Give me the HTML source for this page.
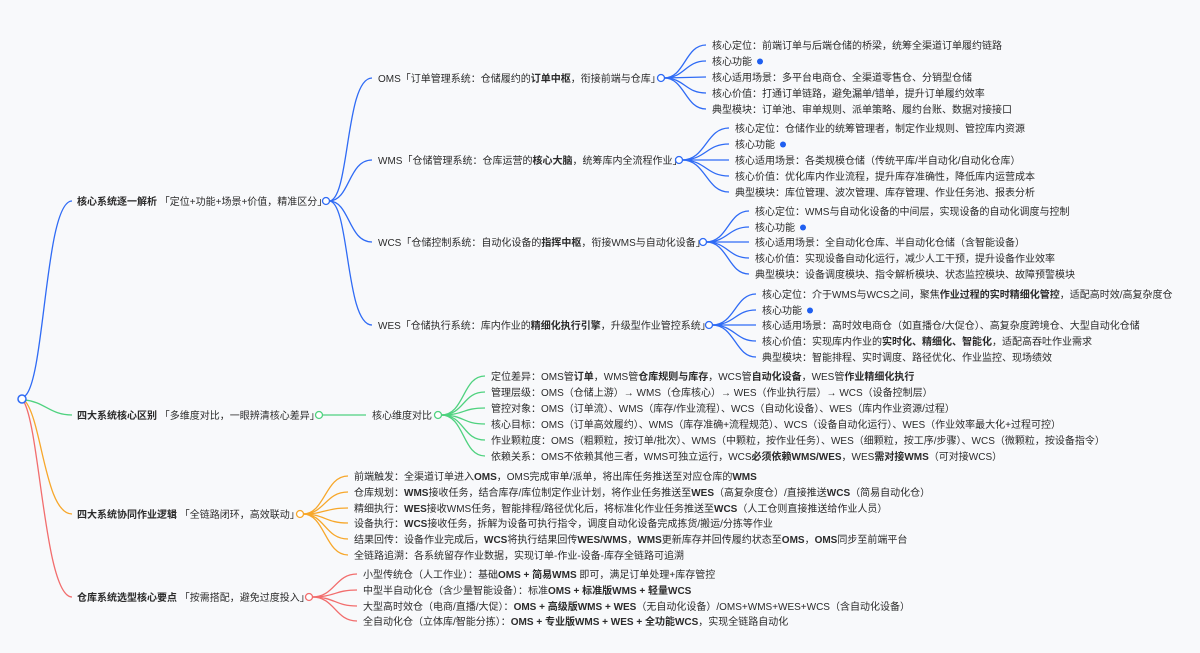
<!DOCTYPE html>
<html><head><meta charset="utf-8"><style>
html,body{margin:0;padding:0;background:#f8f9fb;}
svg{display:block;}
text{font-family:"Liberation Sans","Noto Sans CJK SC",sans-serif;font-size:10px;fill:#2b2b2b;}
.b{font-weight:bold;}
path{fill:none;stroke-width:1.3;}
.bl{stroke:#2f6bf5}.gr{stroke:#4fd27f}.or{stroke:#f7a72a}.rd{stroke:#f26d6d}
</style></head><body>
<svg width="1200" height="653" viewBox="0 0 1200 653" xmlns="http://www.w3.org/2000/svg">
<!-- root branches -->
<path class="bl" d="M25 396 C45 380,45 201,72 201"/>
<path class="gr" d="M25 400 C45 402,50 415,72 415"/>
<path class="or" d="M25 401 C42 420,45 514,72 514"/>
<path class="rd" d="M24 402 C40 430,45 597,72 597"/>
<circle cx="22" cy="399" r="4" fill="#fff" stroke="#2f6bf5" stroke-width="1.5"/>

<!-- level 1 texts -->
<text x="77" y="205"><tspan class="b">核心系统逐一解析</tspan> 「定位+功能+场景+价值，精准区分」</text>
<text x="77" y="419"><tspan class="b">四大系统核心区别</tspan> 「多维度对比，一眼辨清核心差异」</text>
<text x="77" y="518"><tspan class="b">四大系统协同作业逻辑</tspan> 「全链路闭环，高效联动」</text>
<text x="77" y="601"><tspan class="b">仓库系统选型核心要点</tspan> 「按需搭配，避免过度投入」</text>

<!-- blue level 2 -->
<path class="bl" d="M329 201 C350 201,345 78,372 78"/>
<path class="bl" d="M329 201 C350 201,348 160,372 160"/>
<path class="bl" d="M329 201 C350 201,348 242,372 242"/>
<path class="bl" d="M329 201 C350 201,345 325,372 325"/>
<circle cx="326" cy="201" r="3.5" fill="#fff" stroke="#2f6bf5" stroke-width="1.3"/>
<text x="378" y="82">OMS「订单管理系统：仓储履约的<tspan class="b">订单中枢</tspan>，衔接前端与仓库」</text>
<text x="378" y="164">WMS「仓储管理系统：仓库运营的<tspan class="b">核心大脑</tspan>，统筹库内全流程作业」</text>
<text x="378" y="246">WCS「仓储控制系统：自动化设备的<tspan class="b">指挥中枢</tspan>，衔接WMS与自动化设备」</text>
<text x="378" y="329">WES「仓储执行系统：库内作业的<tspan class="b">精细化执行引擎</tspan>，升级型作业管控系统」</text>

<!-- OMS children -->
<path class="bl" d="M664 78 C685 78,685 45,706 45"/>
<path class="bl" d="M664 78 C685 78,685 61,706 61"/>
<path class="bl" d="M664 78 L706 77"/>
<path class="bl" d="M664 78 C685 78,685 93,706 93"/>
<path class="bl" d="M664 78 C685 78,685 109,706 109"/>
<circle cx="661" cy="78" r="3.5" fill="#fff" stroke="#2f6bf5" stroke-width="1.3"/>
<text x="712" y="49">核心定位：前端订单与后端仓储的桥梁，统筹全渠道订单履约链路</text>
<text x="712" y="65">核心功能</text><circle cx="760" cy="61.5" r="3" fill="#1f5ff0"/>
<text x="712" y="81">核心适用场景：多平台电商仓、全渠道零售仓、分销型仓储</text>
<text x="712" y="97">核心价值：打通订单链路，避免漏单/错单，提升订单履约效率</text>
<text x="712" y="113">典型模块：订单池、审单规则、派单策略、履约台账、数据对接接口</text>

<!-- WMS children -->
<path class="bl" d="M682 160 C706 160,706 128,729 128"/>
<path class="bl" d="M682 160 C706 160,706 144,729 144"/>
<path class="bl" d="M682 160 L729 160"/>
<path class="bl" d="M682 160 C706 160,706 176,729 176"/>
<path class="bl" d="M682 160 C706 160,706 192,729 192"/>
<circle cx="679" cy="160" r="3.5" fill="#fff" stroke="#2f6bf5" stroke-width="1.3"/>
<text x="735" y="132">核心定位：仓储作业的统筹管理者，制定作业规则、管控库内资源</text>
<text x="735" y="148">核心功能</text><circle cx="783" cy="144.5" r="3" fill="#1f5ff0"/>
<text x="735" y="164">核心适用场景：各类规模仓储（传统平库/半自动化/自动化仓库）</text>
<text x="735" y="180">核心价值：优化库内作业流程，提升库存准确性，降低库内运营成本</text>
<text x="735" y="196">典型模块：库位管理、波次管理、库存管理、作业任务池、报表分析</text>

<!-- WCS children -->
<path class="bl" d="M706 242 C728 242,728 211,749 211"/>
<path class="bl" d="M706 242 C728 242,728 227,749 227"/>
<path class="bl" d="M706 242 L749 242"/>
<path class="bl" d="M706 242 C728 242,728 258,749 258"/>
<path class="bl" d="M706 242 C728 242,728 274,749 274"/>
<circle cx="703" cy="242" r="3.5" fill="#fff" stroke="#2f6bf5" stroke-width="1.3"/>
<text x="755" y="215">核心定位：WMS与自动化设备的中间层，实现设备的自动化调度与控制</text>
<text x="755" y="231">核心功能</text><circle cx="803" cy="227.5" r="3" fill="#1f5ff0"/>
<text x="755" y="246">核心适用场景：全自动化仓库、半自动化仓储（含智能设备）</text>
<text x="755" y="262">核心价值：实现设备自动化运行，减少人工干预，提升设备作业效率</text>
<text x="755" y="278">典型模块：设备调度模块、指令解析模块、状态监控模块、故障预警模块</text>

<!-- WES children -->
<path class="bl" d="M712 325 C735 325,735 294,756 294"/>
<path class="bl" d="M712 325 C735 325,735 310,756 310"/>
<path class="bl" d="M712 325 L756 325"/>
<path class="bl" d="M712 325 C735 325,735 341,756 341"/>
<path class="bl" d="M712 325 C735 325,735 357,756 357"/>
<circle cx="709" cy="325" r="3.5" fill="#fff" stroke="#2f6bf5" stroke-width="1.3"/>
<text x="762" y="298">核心定位：介于WMS与WCS之间，聚焦<tspan class="b">作业过程的实时精细化管控</tspan>，适配高时效/高复杂度仓</text>
<text x="762" y="314">核心功能</text><circle cx="810" cy="310.5" r="3" fill="#1f5ff0"/>
<text x="762" y="329">核心适用场景：高时效电商仓（如直播仓/大促仓）、高复杂度跨境仓、大型自动化仓储</text>
<text x="762" y="345">核心价值：实现库内作业的<tspan class="b">实时化、精细化、智能化</tspan>，适配高吞吐作业需求</text>
<text x="762" y="361">典型模块：智能排程、实时调度、路径优化、作业监控、现场绩效</text>

<!-- green -->
<path class="gr" d="M322 415 L366 415"/>
<circle cx="319" cy="415" r="3.5" fill="#fff" stroke="#4fd27f" stroke-width="1.3"/>
<text x="372" y="419">核心维度对比</text>
<path class="gr" d="M441 415 C465 415,462 376,485 376"/>
<path class="gr" d="M441 415 C465 415,462 392,485 392"/>
<path class="gr" d="M441 415 C465 415,462 408,485 408"/>
<path class="gr" d="M441 415 C465 415,462 424,485 424"/>
<path class="gr" d="M441 415 C465 415,462 440,485 440"/>
<path class="gr" d="M441 415 C465 415,462 456,485 456"/>
<circle cx="438" cy="415" r="3.5" fill="#fff" stroke="#4fd27f" stroke-width="1.3"/>
<text x="491" y="380">定位差异：OMS管<tspan class="b">订单</tspan>，WMS管<tspan class="b">仓库规则与库存</tspan>，WCS管<tspan class="b">自动化设备</tspan>，WES管<tspan class="b">作业精细化执行</tspan></text>
<text x="491" y="396">管理层级：OMS（仓储上游）→ WMS（仓库核心）→ WES（作业执行层）→ WCS（设备控制层）</text>
<text x="491" y="412">管控对象：OMS（订单流）、WMS（库存/作业流程）、WCS（自动化设备）、WES（库内作业资源/过程）</text>
<text x="491" y="428">核心目标：OMS（订单高效履约）、WMS（库存准确+流程规范）、WCS（设备自动化运行）、WES（作业效率最大化+过程可控）</text>
<text x="491" y="444">作业颗粒度：OMS（粗颗粒，按订单/批次）、WMS（中颗粒，按作业任务）、WES（细颗粒，按工序/步骤）、WCS（微颗粒，按设备指令）</text>
<text x="491" y="460">依赖关系：OMS不依赖其他三者，WMS可独立运行，WCS<tspan class="b">必须依赖WMS/WES</tspan>，WES<tspan class="b">需对接WMS</tspan>（可对接WCS）</text>

<!-- orange -->
<path class="or" d="M303 514 C325 514,325 476,348 476"/>
<path class="or" d="M303 514 C325 514,325 492,348 492"/>
<path class="or" d="M303 514 C325 514,325 508,348 508"/>
<path class="or" d="M303 514 C325 514,325 523,348 523"/>
<path class="or" d="M303 514 C325 514,325 539,348 539"/>
<path class="or" d="M303 514 C325 514,325 555,348 555"/>
<circle cx="300" cy="514" r="3.5" fill="#fff" stroke="#f7a72a" stroke-width="1.3"/>
<text x="354" y="480">前端触发：全渠道订单进入<tspan class="b">OMS</tspan>，OMS完成审单/派单，将出库任务推送至对应仓库的<tspan class="b">WMS</tspan></text>
<text x="354" y="496">仓库规划：<tspan class="b">WMS</tspan>接收任务，结合库存/库位制定作业计划，将作业任务推送至<tspan class="b">WES</tspan>（高复杂度仓）/直接推送<tspan class="b">WCS</tspan>（简易自动化仓）</text>
<text x="354" y="512">精细执行：<tspan class="b">WES</tspan>接收WMS任务，智能排程/路径优化后，将标准化作业任务推送至<tspan class="b">WCS</tspan>（人工仓则直接推送给作业人员）</text>
<text x="354" y="527">设备执行：<tspan class="b">WCS</tspan>接收任务，拆解为设备可执行指令，调度自动化设备完成拣货/搬运/分拣等作业</text>
<text x="354" y="543">结果回传：设备作业完成后，<tspan class="b">WCS</tspan>将执行结果回传<tspan class="b">WES/WMS</tspan>，<tspan class="b">WMS</tspan>更新库存并回传履约状态至<tspan class="b">OMS</tspan>，<tspan class="b">OMS</tspan>同步至前端平台</text>
<text x="354" y="559">全链路追溯：各系统留存作业数据，实现订单-作业-设备-库存全链路可追溯</text>

<!-- red -->
<path class="rd" d="M312 597 C335 597,335 574,357 574"/>
<path class="rd" d="M312 597 C335 597,335 590,357 590"/>
<path class="rd" d="M312 597 C335 597,335 606,357 606"/>
<path class="rd" d="M312 597 C335 597,335 621,357 621"/>
<circle cx="309" cy="597" r="3.5" fill="#fff" stroke="#f26d6d" stroke-width="1.3"/>
<text x="363" y="578">小型传统仓（人工作业）：基础<tspan class="b">OMS + 简易WMS</tspan> 即可，满足订单处理+库存管控</text>
<text x="363" y="594">中型半自动化仓（含少量智能设备）：标准<tspan class="b">OMS + 标准版WMS + 轻量WCS</tspan></text>
<text x="363" y="610">大型高时效仓（电商/直播/大促）：<tspan class="b">OMS + 高级版WMS + WES</tspan>（无自动化设备）/OMS+WMS+WES+WCS（含自动化设备）</text>
<text x="363" y="625">全自动化仓（立体库/智能分拣）：<tspan class="b">OMS + 专业版WMS + WES + 全功能WCS</tspan>，实现全链路自动化</text>
</svg>
</body></html>
